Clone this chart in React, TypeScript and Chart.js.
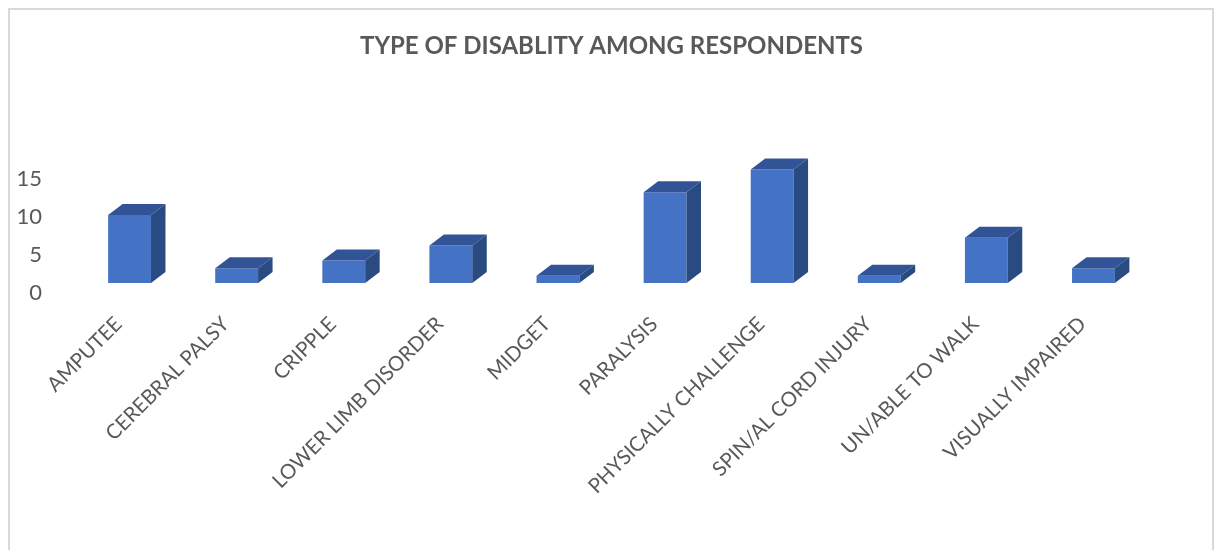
import React, { useEffect, useRef } from "react";
import { Chart, registerables } from "chart.js";

Chart.register(...registerables);

const categories = ["AMPUTEE", "CEREBRAL PALSY", "CRIPPLE", "LOWER LIMB DISORDER", "MIDGET", "PARALYSIS", "PHYSICALLY CHALLENGE", "SPIN/AL CORD INJURY", "UN/ABLE TO WALK", "VISUALLY IMPAIRED"];
const respondents = [10, 3, 4, 6, 2, 13, 16, 2, 7, 3];
const yTicks = [0, 5, 10, 15];
const titleText = "TYPE OF DISABLITY AMONG RESPONDENTS";
const FLOOR = 1.05;
const DX = 14.5;
const DY = 11;

const depthPlugin = {
  id: "depth3d",
  afterDatasetsDraw(chart: any) {
    const ctx = chart.ctx;
    const meta = chart.getDatasetMeta(0);
    ctx.save();
    meta.data.forEach((bar: any) => {
      const p = bar.getProps(["x", "y", "base", "width"], true);
      const l = p.x - p.width / 2, r = p.x + p.width / 2, t = p.y, b = p.base;
      ctx.fillStyle = "#325496";
      ctx.beginPath();
      ctx.moveTo(l, t); ctx.lineTo(l + DX, t - DY); ctx.lineTo(r + DX, t - DY); ctx.lineTo(r, t);
      ctx.closePath(); ctx.fill();
      ctx.fillStyle = "#2a4a82";
      ctx.beginPath();
      ctx.moveTo(r, t); ctx.lineTo(r + DX, t - DY); ctx.lineTo(r + DX, b - DY); ctx.lineTo(r, b);
      ctx.closePath(); ctx.fill();
    });
    ctx.restore();
  },
};

export default function App() {
  const ref = useRef<HTMLCanvasElement | null>(null);
  useEffect(() => {
    const chart = new Chart(ref.current as HTMLCanvasElement, {
      type: "bar",
      data: {
        labels: categories,
        datasets: [{
          data: respondents,
          base: FLOOR,
          backgroundColor: "#4472c4",
          borderWidth: 0,
          barPercentage: 0.4,
          categoryPercentage: 1,
        } as any],
      },
      plugins: [depthPlugin],
      options: {
        responsive: false,
        animation: false,
        layout: { padding: { left: 0, right: 68, top: 0, bottom: 0 } },
        plugins: {
          legend: { display: false },
          tooltip: { enabled: false },
          title: {
            display: true,
            text: titleText,
            fullSize: false,
            color: "#595959",
            font: { family: "Lato", size: 24, weight: "bold" },
            padding: { top: 32, bottom: 40.2 },
          },
        },
        scales: {
          x: {
            grid: { display: false },
            border: { display: false },
            afterFit(s: any) { s.height = 259; },
            ticks: {
              autoSkip: false,
              minRotation: 45,
              maxRotation: 45,
              padding: 13,
              labelOffset: -11,
              color: "#595959",
              font: { family: "Lato", size: 20.4 },
            },
          },
          y: {
            min: 0,
            max: 25,
            grid: { display: false },
            border: { display: false },
            afterFit(s: any) { s.width = 76; },
            afterBuildTicks(s: any) { s.ticks = yTicks.map((value) => ({ value })); },
            ticks: {
              padding: 26,
              labelOffset: 2,
              color: "#595959",
              font: { family: "Lato", size: 22 },
            },
          },
        },
      },
    } as any);
    return () => chart.destroy();
  }, []);
  return (
    <div style={{ position: "absolute", left: 0, top: 0, width: 1215, height: 550, background: "#fff" }}>
      <div style={{ position: "absolute", left: 8, top: 8, width: 1206, height: 560, boxSizing: "border-box", borderLeft: "2px solid #d9d9d9", borderTop: "2px solid #d9d9d9", borderRight: "2px solid #d9d9d9", clipPath: "inset(0 0 18px 0)" }} />
      <canvas ref={ref} width={1215} height={550} style={{ position: "absolute", left: 0, top: 0, display: "block" }} />
    </div>
  );
}
